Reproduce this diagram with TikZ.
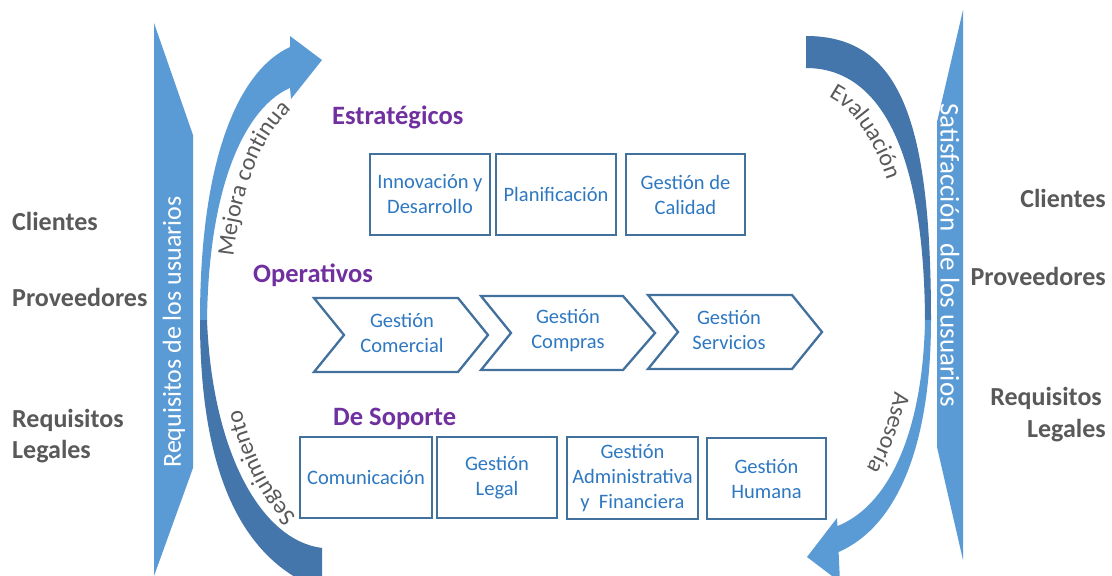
\documentclass[tikz,border=0pt]{standalone}
\usepackage{fontspec}
\setmainfont{Carlito}
\usetikzlibrary{decorations.text}
\definecolor{bandblue}{HTML}{5B9BD5}
\definecolor{darkarc}{HTML}{4475AB}
\definecolor{boxline}{HTML}{41719C}
\definecolor{boxtext}{HTML}{2E78C2}
\definecolor{headpurple}{HTML}{7030A0}
\definecolor{labelgray}{HTML}{595959}
\newcommand{\arcfont}{\color{labelgray}\fontsize{24}{24}\selectfont}
\begin{document}
\begin{tikzpicture}[x=1pt,y=-1pt,
  procbox/.style={draw=boxline, line width=2.3pt, fill=white, align=center, text=boxtext,
    font=\fontsize{20.5}{25}\selectfont, inner sep=0pt},
  chev/.style={draw=boxline, line width=2.3pt, fill=white, line join=miter},
  chevtext/.style={align=center, text=boxtext, font=\fontsize{20.5}{25}\selectfont, inner sep=0pt},
  heading/.style={text=headpurple, font=\fontsize{26.5}{30}\selectfont\bfseries, inner sep=0pt},
  sidelabel/.style={text=labelgray, font=\fontsize{26}{31}\selectfont\bfseries, inner sep=0pt},
  bandtext/.style={text=white, inner sep=0pt},
  arclabel/.style={decorate, decoration={text along path, text align=center}}
]
\useasboundingbox (0,0) rectangle (1112,576);
\clip (0,0) rectangle (1112,576);
\fill[white] (0,0) rectangle (1112,576);

% side bands
\fill[bandblue] (154,23) -- (193,135) -- (193,468) -- (154,576) -- cycle;
\node[bandtext, rotate=90, font=\fontsize{26}{30}\selectfont] (lband) at (174,332) {Requisitos de los usuarios};
\fill[bandblue] (963,10) -- (937,122) -- (937,447) -- (963,560) -- cycle;
\node[bandtext, rotate=-90, font=\fontsize{27}{30}\selectfont] (rband) at (950,255) {Satisfacción\ \ de los usuarios};

% left crescent
\fill[bandblue] (207,320) .. controls (209,175) and (250,105) .. (290,88) -- (291,99) -- (322,60)
  -- (290,36) -- (290,47) .. controls (240,70) and (200,155) .. (200,320) -- cycle;
\fill[darkarc] (200,320) .. controls (200,470) and (240,560) .. (322,590) -- (322,548)
  .. controls (260,540) and (212,450) .. (207,320) -- cycle;

% right crescent
\fill[darkarc] (806,36) .. controls (900,36) and (931,120) .. (931,320) -- (925,320)
  .. controls (924,150) and (880,68) .. (806,68) -- cycle;
\fill[bandblue] (931,320) .. controls (931,440) and (900,525) .. (838.6,552) -- (840,582)
  -- (807,557) -- (837,518) -- (837.5,526) .. controls (890,505) and (923,430) .. (925,320) -- cycle;

% arc labels
\path[arclabel, decoration={text={|\arcfont|Mejora continua}}]
  (233,262) .. controls (238,205) and (257,136) .. (296,106);
\path[arclabel, decoration={text={|\arcfont|Seguimiento}}]
  (303,522) .. controls (268,495) and (251,449) .. (239,401);
\path[arclabel, decoration={text={|\arcfont|Evaluación}}]
  (819,93) .. controls (855,102) and (879,152) .. (890,190);
\path[arclabel, decoration={text={|\arcfont|Asesoría}}]
  (896,383) .. controls (891,415) and (880,452) .. (862,476);

% headings
\node[heading, anchor=base west] (hE) at (332,124) {Estratégicos};
\node[heading, anchor=base west] (hO) at (253,282) {Operativos};
\node[heading, anchor=base west] (hS) at (333,425) {De Soporte};

% strategic boxes
\node[procbox, minimum width=120, minimum height=81] (b1) at (430,194.5) {Innovación y\\Desarrollo};
\node[procbox, minimum width=120, minimum height=81] (b2) at (556,194.5) {Planificación};
\node[procbox, minimum width=119, minimum height=81] (b3) at (685.5,194.5) {Gestión de\\Calidad};

% operative chevrons
\draw[chev] (314,298) -- (458,298) -- (488,335) -- (458,372) -- (314,372) -- (344,335) -- cycle;
\node[chevtext] (c1) at (402,333) {Gestión\\Comercial};
\draw[chev] (481,296) -- (623,296) -- (655,333) -- (623,370) -- (481,370) -- (511,333) -- cycle;
\node[chevtext] (c2) at (568,331) {Gestión\\Compras};
\draw[chev] (648,295) -- (792,295) -- (822,332) -- (792,369) -- (648,369) -- (678,332) -- cycle;
\node[chevtext] (c3) at (729,330) {Gestión\\Servicios};

% support boxes
\node[procbox, minimum width=132, minimum height=81] (s1) at (366,477.5) {Comunicación};
\node[procbox, minimum width=120, minimum height=81] (s2) at (497,477.5) {Gestión\\Legal};
\node[procbox, minimum width=131, minimum height=82] (s3) at (632.5,478) {Gestión\\Administrativa\\y\ \ Financiera};
\node[procbox, minimum width=119, minimum height=81] (s4) at (766.5,478.5) {Gestión\\Humana};

% side labels
\node[sidelabel, anchor=base west] (lc) at (12,230) {Clientes};
\node[sidelabel, anchor=base west] (lp) at (12,306) {Proveedores};
\node[sidelabel, anchor=base west] (lr) at (12,427) {Requisitos};
\node[sidelabel, anchor=base west] (ll) at (12,458) {Legales};
\node[sidelabel, anchor=base east] (rc) at (1106,207) {Clientes};
\node[sidelabel, anchor=base east] (rp) at (1106,285) {Proveedores};
\node[sidelabel, anchor=base east] (rr) at (1102,405) {Requisitos};
\node[sidelabel, anchor=base east] (rl) at (1106,437) {Legales};
\end{tikzpicture}
\end{document}
